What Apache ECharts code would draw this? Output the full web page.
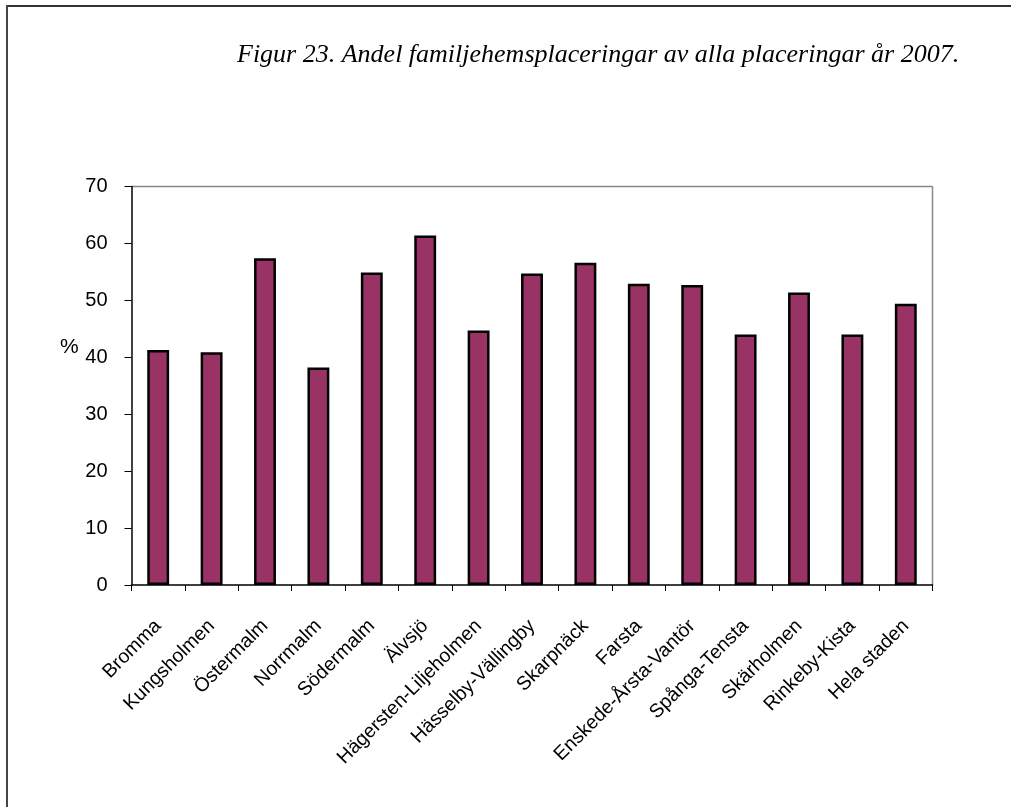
<!DOCTYPE html>
<html>
<head>
<meta charset="utf-8">
<script src="https://cdn.jsdelivr.net/npm/echarts@6/dist/echarts.min.js"></script>
<style>
  html, body { margin: 0; padding: 0; background: #fff; }
  #chart { width: 1011px; height: 807px; }
</style>
</head>
<body>
<div id="chart"></div>
<script>
// districts, in the order shown
const districts = [
  'Bromma', 'Kungsholmen', 'Östermalm', 'Norrmalm', 'Södermalm', 'Älvsjö',
  'Hägersten-Liljeholmen', 'Hässelby-Vällingby', 'Skarpnäck', 'Farsta',
  'Enskede-Årsta-Vantör', 'Spånga-Tensta', 'Skärholmen', 'Rinkeby-Kista', 'Hela staden'
];
// andel familjehemsplaceringar (%)
const shares = [41.3, 40.9, 57.4, 38.2, 54.9, 61.4, 44.7, 54.7, 56.6, 52.9, 52.7, 44.0, 51.4, 44.0, 49.4];
const yTicks = [0, 10, 20, 30, 40, 50, 60, 70];

const chart = echarts.init(document.getElementById('chart'));

const option = {
  backgroundColor: '#fff',
  animation: false,
  title: {
    text: 'Figur 23. Andel familjehemsplaceringar av alla placeringar år 2007.',
    left: 232,
    top: 37,
    textStyle: {
      fontFamily: 'Liberation Serif',
      fontStyle: 'italic',
      fontWeight: 'normal',
      fontSize: 26,
      color: '#000'
    }
  },
  graphic: [
    // page frame (top and left edges)
    { type: 'line', shape: { x1: 6, y1: 6, x2: 1011, y2: 6 }, style: { stroke: '#333', lineWidth: 2 } },
    { type: 'line', shape: { x1: 7, y1: 5, x2: 7, y2: 807 }, style: { stroke: '#444', lineWidth: 2 } },
    // plot area top/right border
    { type: 'line', shape: { x1: 131.5, y1: 186.5, x2: 932.5, y2: 186.5 }, style: { stroke: '#888', lineWidth: 1.5 } },
    { type: 'line', shape: { x1: 932.5, y1: 186.5, x2: 932.5, y2: 585 }, style: { stroke: '#888', lineWidth: 1.5 } },
    { type: 'text', left: 60, top: 337, style: { text: '%', fontFamily: 'Liberation Sans', fontSize: 21, fill: '#000' } }
  ],
  grid: {
    left: 131.5,
    top: 186.5,
    width: 801,
    height: 398.5,
    containLabel: false
  },
  xAxis: {
    type: 'category',
    data: districts,
    axisLine: { lineStyle: { color: '#000', width: 1.5 } },
    axisTick: { show: true, alignWithLabel: false, length: 6, lineStyle: { color: '#000' } },
    axisLabel: {
      interval: 0,
      rotate: 45,
      margin: 38,
      fontFamily: 'Liberation Sans',
      fontSize: 19.5,
      color: '#000'
    }
  },
  yAxis: {
    type: 'value',
    min: yTicks[0],
    max: yTicks[yTicks.length - 1],
    interval: 10,
    splitLine: { show: false },
    axisLine: { show: true, lineStyle: { color: '#000', width: 1.5 } },
    axisTick: { show: true, inside: false, length: 7, lineStyle: { color: '#000' } },
    axisLabel: {
      margin: 24,
      fontFamily: 'Liberation Sans',
      fontSize: 20,
      color: '#000'
    }
  },
  series: [{
    type: 'bar',
    data: shares,
    barWidth: '41%',
    itemStyle: {
      color: '#993366',
      borderColor: '#000',
      borderWidth: 2.5
    }
  }]
};

chart.setOption(option);
</script>
</body>
</html>
